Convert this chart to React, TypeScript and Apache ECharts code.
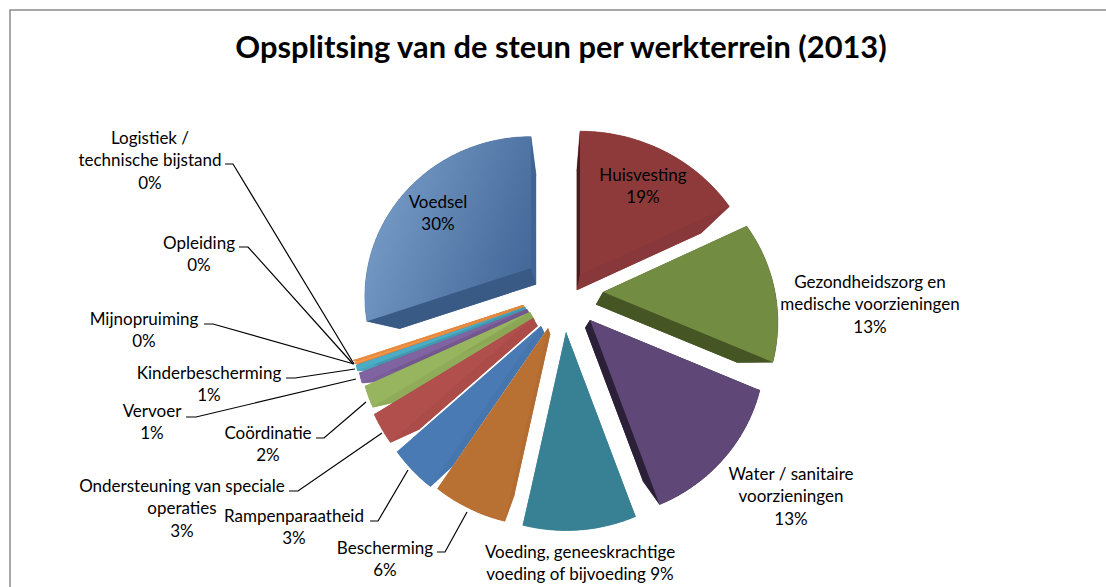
import React, { useEffect, useRef } from "react";
import * as echarts from "echarts";

const chartTitle = "Opsplitsing van de steun per werkterrein (2013)";
const categories = ["Huisvesting", "Gezondheidszorg en medische voorzieningen", "Water / sanitaire voorzieningen", "Voeding, geneeskrachtige voeding of bijvoeding", "Bescherming", "Rampenparaatheid", "Ondersteuning van speciale operaties", "Coördinatie", "Vervoer", "Kinderbescherming", "Mijnopruiming", "Opleiding", "Logistiek / technische bijstand", "Voedsel"];
const shares = [18.6, 13, 12.8, 9, 5.8, 3.4, 3, 2.2, 1.05, 0.6, 0.2, 0.05, 0.05, 30.25];

// Layout and styling (not data)
const FONT = "Lato, 'Noto Sans', sans-serif";
const apex = [[580, 275], [603, 292], [590, 320], [566, 332], [548, 328], [541, 326], [533, 318], [530, 312], [527, 309], [525, 307], [524, 306], [523, 305], [523, 305], [531, 268]];
const radiusScale = [1.04, 1, 1, 1, 1, 1, 0.99, 0.98, 0.98, 0.98, 0.98, 0.98, 0.98, 0.95];
const topFill = ["#8f3a3a", "#728c42", "#5f4877", "#388093", "#b87033", "#4a7ab3", "#b04f4c", "#97b45e", "#8064a2", "#4aacc5", "#f79646", "#f79646", "#f0a070", "#5a82b3"];
const startWall = ["#451d1d", "#465524", "#2b2038", "#357a8c", "#b36c31", "#4775ae", "#ab4c49", "#90ac5a", "#7a5f9b", "#46a4bc", "#e08840", "#e08840", "#e08840", "#3a5a86"];
const endWall = ["#88383a", "#465524", "#2b2038", "#357a8c", "#b36c31", "#4775ae", "#ab4c49", "#8ba755", "#735890", "#4298ae", "#e08840", "#e08840", "#e08840", "#3f6595"];
const labelCenter = [[643, 174], [870, 281], [791, 473], [580, 551], [385, 547], [294, 515], [182, 485], [268, 432], [152, 410], [209, 372], [144, 318], [199, 242], [150, 137], [438, 201]];
const labelLines = [["Huisvesting", "19%"], ["Gezondheidszorg en", "medische voorzieningen", "13%"], ["Water / sanitaire", "voorzieningen", "13%"], ["Voeding, geneeskrachtige", "voeding of bijvoeding 9%"], ["Bescherming", "6%"], ["Rampenparaatheid", "3%"], ["Ondersteuning van speciale", "operaties", "3%"], ["Coördinatie", "2%"], ["Vervoer", "1%"], ["Kinderbescherming", "1%"], ["Mijnopruiming", "0%"], ["Opleiding", "0%"], ["Logistiek /", "technische bijstand", "0%"], ["Voedsel", "30%"]];
const leaders: (number[][] | null)[] = [null, null, null, null,
  [[437, 552], [445, 552], [467, 512]],
  [[370, 521], [378, 521], [408, 470]],
  [[289, 491], [298, 491], [382, 433]],
  [[316, 438], [324, 438], [366, 402]],
  [[186, 417], [196, 417], [356, 379]],
  [[286, 378], [295, 378], [355, 369]],
  [[204, 324], [213, 324], [354, 364]],
  [[239, 247], [248, 247], [353, 364]],
  [[225, 164], [233, 164], [354, 364]],
  null];
const VP = [561, 365];
const SHRINK = 0.83;
const RX = 172, RY = 163, PERSP = 0.179;
const turnKnots = [[0, 0], [67, -2.8], [114, -0.2], [160, 0.5], [192, -0.3], [214, 0], [226, 2.1], [251, 0], [360, 0]];

const total = shares.reduce((a, b) => a + b, 0);
function viewTurn(deg: number) {
  for (let i = 1; i < turnKnots.length; i++) {
    const [x0, y0] = turnKnots[i - 1];
    const [x1, y1] = turnKnots[i];
    if (deg <= x1) return y0 + ((y1 - y0) * (deg - x0)) / (x1 - x0);
  }
  return 0;
}
function project(deg: number, cx: number, cy: number, k: number, turnFrom: number) {
  const t = ((deg + viewTurn(turnFrom)) * Math.PI) / 180;
  const u = Math.sin(t), v = Math.cos(t);
  const s = k / (1 + PERSP * v);
  return [cx + RX * u * s, cy - RY * v * s];
}
const lower = (p: number[]) => [VP[0] + SHRINK * (p[0] - VP[0]), VP[1] + SHRINK * (p[1] - VP[1])];

export default function App() {
  const ref = useRef<HTMLDivElement>(null);
  useEffect(() => {
    document.body.style.margin = "0";
    const chart = echarts.init(ref.current!, null, { renderer: "svg" });
    const voedselGradient = new echarts.graphic.LinearGradient(0, 0.25, 1, 0.65, [
      { offset: 0, color: "#7a9fca" },
      { offset: 1, color: "#44699a" },
    ]);
    const renderItem = (params: any, api: any) => {
      const i = params.dataIndex;
      let before = 0;
      for (let j = 0; j < i; j++) before += shares[j];
      const a0 = (before / total) * 360;
      const a1 = ((before + api.value(1)) / total) * 360;
      const [cx, cy] = apex[i];
      const k = radiusScale[i];
      const arc: number[][] = [];
      const n = Math.max(2, Math.ceil((a1 - a0) / 2));
      for (let s = 0; s <= n; s++) {
        const d = a0 + ((a1 - a0) * s) / n;
        arc.push(project(d, cx, cy, k, i === 13 ? 360 : d));
      }
      const top = [[cx, cy], ...arc];
      const bottom = top.map(lower);
      const children: any[] = [];
      const fill = i === 13 ? voedselGradient : topFill[i];
      const z2 = 20 - i;
      children.push({ type: "polygon", z2, shape: { points: bottom }, style: { fill: endWall[i] }, silent: true });
      for (let s = 0; s < arc.length - 1; s++) {
        children.push({ type: "polygon", z2, shape: { points: [arc[s], arc[s + 1], lower(arc[s + 1]), lower(arc[s])] }, style: { fill: endWall[i], stroke: endWall[i], lineWidth: 0.5 }, silent: true });
      }
      children.push({ type: "polygon", z2, shape: { points: [[cx, cy], arc[0], lower(arc[0]), lower([cx, cy])] }, style: { fill: startWall[i] }, silent: true });
      children.push({ type: "polygon", z2, shape: { points: [[cx, cy], arc[arc.length - 1], lower(arc[arc.length - 1]), lower([cx, cy])] }, style: { fill: endWall[i] }, silent: true });
      children.push({ type: "polygon", z2, shape: { points: top }, style: { fill }, silent: true });
      const lead = leaders[i];
      if (lead) children.push({ type: "polyline", z2: 50, shape: { points: lead }, style: { stroke: "#000", lineWidth: 1.2, fill: "none" }, silent: true });
      const lines = labelLines[i];
      lines.forEach((t, li) => {
        children.push({
          type: "text", z2: 60, silent: true,
          style: { text: t, x: labelCenter[i][0], y: labelCenter[i][1] + li * 22.5, fill: "#000", fontFamily: FONT, fontSize: 17, align: "center", verticalAlign: "middle" },
        });
      });
      return { type: "group", children };
    };
    chart.setOption({
      animation: false,
      backgroundColor: "#fff",
      title: { text: chartTitle, left: 556, top: 26, textAlign: "center", textStyle: { fontFamily: FONT, fontWeight: "bold", fontSize: 30.8, color: "#000" } },
      graphic: [
        { type: "polyline", shape: { points: [[10, 587], [10, 10], [1106, 10]] }, style: { stroke: "#8c8c8c", lineWidth: 1.5, fill: "none" }, silent: true },
      ],
      series: [{
        type: "custom",
        coordinateSystem: "none",
        renderItem,
        data: shares.map((v, i) => ({ name: categories[i], value: [i, v] })),
      }],
    });
    return () => chart.dispose();
  }, []);
  return <div ref={ref} style={{ width: 1106, height: 587 }} />;
}
